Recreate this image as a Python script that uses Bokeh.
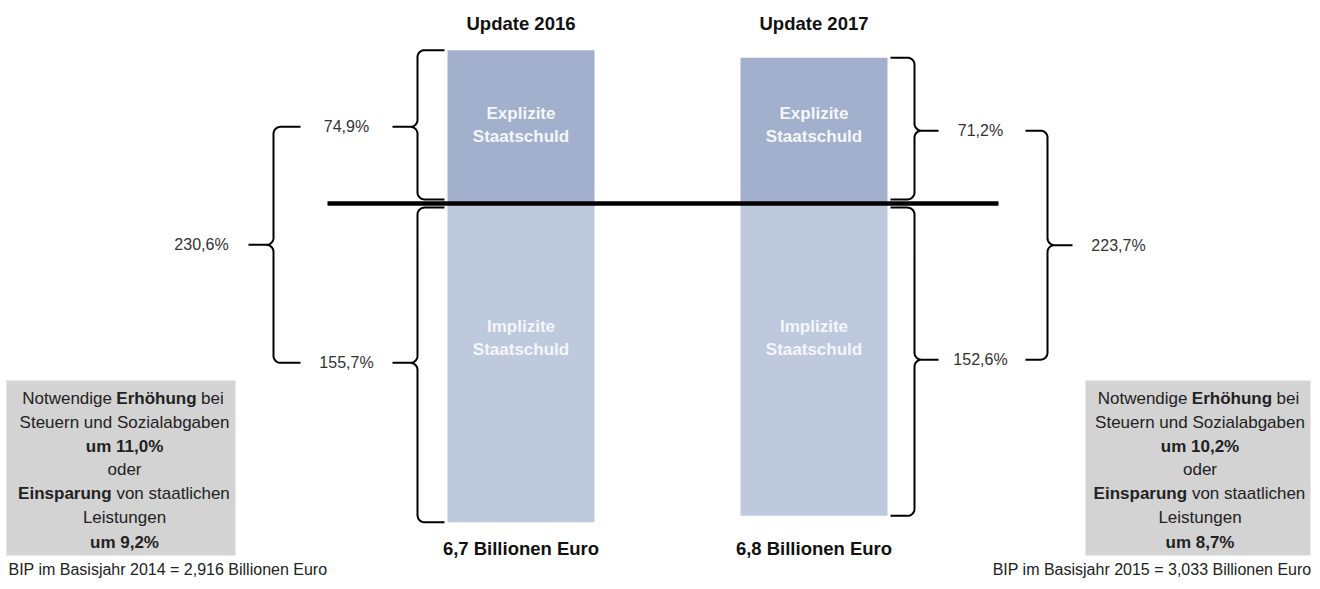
import math
from bokeh.plotting import figure
from bokeh.models import Range1d, ColumnDataSource
from bokeh.core.properties import value
from bokeh.embed import file_html
from bokeh.resources import INLINE

# ---------------- data ----------------
updates = ["Update 2016", "Update 2017"]
explicit_debt = [74.9, 71.2]        # % of GDP
implicit_debt = [155.7, 152.6]      # % of GDP
total_debt = [230.6, 223.7]         # % of GDP
volume_labels = ["6,7 Billionen Euro", "6,8 Billionen Euro"]
tax_increase = ["11,0%", "10,2%"]
spending_cut = ["9,2%", "8,7%"]
base_years = ["2014", "2015"]
gdp_base = ["2,916", "3,033"]

def pct(v):
    return f"{v:.1f}".replace(".", ",") + "%"

# ---------------- layout ----------------
W, H = 1312, 581
Y0 = 203.0      # screen y of zero line
S = 2.047       # px per percentage point

def sy(y):      # screen y -> data value
    return (Y0 - y) / S

FONT = value("Liberation Sans")
BAR_X = [520.5, 813.5]
BAR_W = 147
EXPL_COLOR = "#A2B0CE"
IMPL_COLOR = "#BEC9DE"

p = figure(width=W, height=H, x_range=Range1d(0, W), y_range=Range1d(sy(H), sy(0)),
           output_backend="svg", toolbar_location=None, min_border=0,
           x_axis_type=None, y_axis_type=None)
p.grid.visible = False
p.outline_line_color = None
p.background_fill_color = "white"
p.border_fill_color = "white"

# bars
src = ColumnDataSource(dict(x=BAR_X, expl=explicit_debt, impl=[-v for v in implicit_debt]))
p.vbar(x="x", width=BAR_W, bottom=0, top="expl", source=src, fill_color=EXPL_COLOR, line_color=None)
p.vbar(x="x", width=BAR_W, bottom="impl", top=0, source=src, fill_color=IMPL_COLOR, line_color=None)

# zero line
p.line([327, 998], [0, 0], line_color="black", line_width=4.5)

# braces
def brace(x_v, x_open, x_tip, v_top, v_bot, v_mid, r=7.0, n=10):
    sign = 1 if x_open > x_v else -1
    ry = r / S
    xs, ys = [x_open], [v_top]
    for i in range(n + 1):
        t = i / n * math.pi / 2
        xs.append(x_v + sign * r * (1 - math.sin(t))); ys.append(v_top - ry * (1 - math.cos(t)))
    for i in range(n + 1):
        t = i / n * math.pi / 2
        xs.append(x_v - sign * r * (1 - math.cos(t))); ys.append(v_mid + ry * (1 - math.sin(t)))
    xs += [x_tip, x_v - sign * r]; ys += [v_mid, v_mid]
    for i in range(n + 1):
        t = i / n * math.pi / 2
        xs.append(x_v - sign * r * (1 - math.sin(t))); ys.append(v_mid - ry * (1 - math.cos(t)))
    for i in range(n + 1):
        t = i / n * math.pi / 2
        xs.append(x_v + sign * r * (1 - math.cos(t))); ys.append(v_bot + ry * (1 - math.sin(t)))
    xs.append(x_open); ys.append(v_bot)
    p.line(xs, ys, line_color="black", line_width=2)

GAP = 2.0
text_kw = dict(text_font=FONT, text_baseline="middle")

sides = [
    dict(ixv=417, iopen=444, itip=392, oxv=273, oopen=300, otip=248, ilx=346, olx=201),
    dict(ixv=914, iopen=890, itip=938, oxv=1047, oopen=1025, otip=1072, ilx=980, olx=1118),
]
for k, sd in enumerate(sides):
    e, im = explicit_debt[k], implicit_debt[k]
    e_mid, i_mid = e / 2, -im / 2
    brace(sd["ixv"], sd["iopen"], sd["itip"], e, GAP, e_mid)
    brace(sd["ixv"], sd["iopen"], sd["itip"], -GAP, -im, i_mid)
    brace(sd["oxv"], sd["oopen"], sd["otip"], e_mid, i_mid, (e_mid + i_mid) / 2)
    p.text(x=[sd["ilx"], sd["ilx"], sd["olx"]], y=[e_mid, i_mid, (e_mid + i_mid) / 2],
           text=[pct(e), pct(im), pct(total_debt[k])], text_align="center",
           text_font_size="16px", text_color="#333333", **text_kw)

# bar labels
for bx in BAR_X:
    p.text(x=[bx] * 4, y=[sy(113), sy(136), sy(326), sy(349)],
           text=["Explizite", "Staatschuld", "Implizite", "Staatschuld"], text_align="center",
           text_font_size="17px", text_font_style="bold", text_color="#F4F6FA", **text_kw)

# titles and volumes
p.text(x=BAR_X, y=[sy(23)] * 2, text=updates, text_align="center", text_font_size="18.5px",
       text_font_style="bold", text_color="#111111", **text_kw)
p.text(x=BAR_X, y=[sy(548)] * 2, text=volume_labels, text_align="center", text_font_size="18.5px",
       text_font_style="bold", text_color="#111111", **text_kw)

# grey boxes
p.quad(left=[6, 1085], right=[235, 1310], top=sy(380), bottom=sy(555),
       fill_color="#D3D3D3", line_color=None)

LINE_Y = [398, 422, 446, 469, 493, 517, 542]
for k, tc in enumerate([124, 1199.5]):
    def t(x, y, s, align, bold=False):
        p.text(x=[x], y=[sy(y)], text=[s], text_align=align, text_font_size="17px",
               text_font_style="bold" if bold else "normal", text_color="#222222", **text_kw)
    t(tc - 12.5, LINE_Y[0], "Notwendige", "right")
    t(tc + 32, LINE_Y[0], "Erhöhung", "center", True)
    t(tc + 76.5, LINE_Y[0], "bei", "left")
    t(tc, LINE_Y[1], "Steuern und Sozialabgaben", "center")
    t(tc, LINE_Y[2], "um " + tax_increase[k], "center", True)
    t(tc, LINE_Y[3], "oder", "center")
    t(tc - 106.4, LINE_Y[4], "Einsparung", "left", True)
    t(tc - 8.1, LINE_Y[4], "von staatlichen", "left")
    t(tc, LINE_Y[5], "Leistungen", "center")
    t(tc, LINE_Y[6], "um " + spending_cut[k], "center", True)

# footers
p.text(x=[8], y=[sy(569)], text=[f"BIP im Basisjahr {base_years[0]} = {gdp_base[0]} Billionen Euro"],
       text_align="left", text_font_size="16px", text_color="#222222", **text_kw)
p.text(x=[1311], y=[sy(569)], text=[f"BIP im Basisjahr {base_years[1]} = {gdp_base[1]} Billionen Euro"],
       text_align="right", text_font_size="16px", text_color="#222222", **text_kw)

open("out.html", "w").write(file_html(p, INLINE))
